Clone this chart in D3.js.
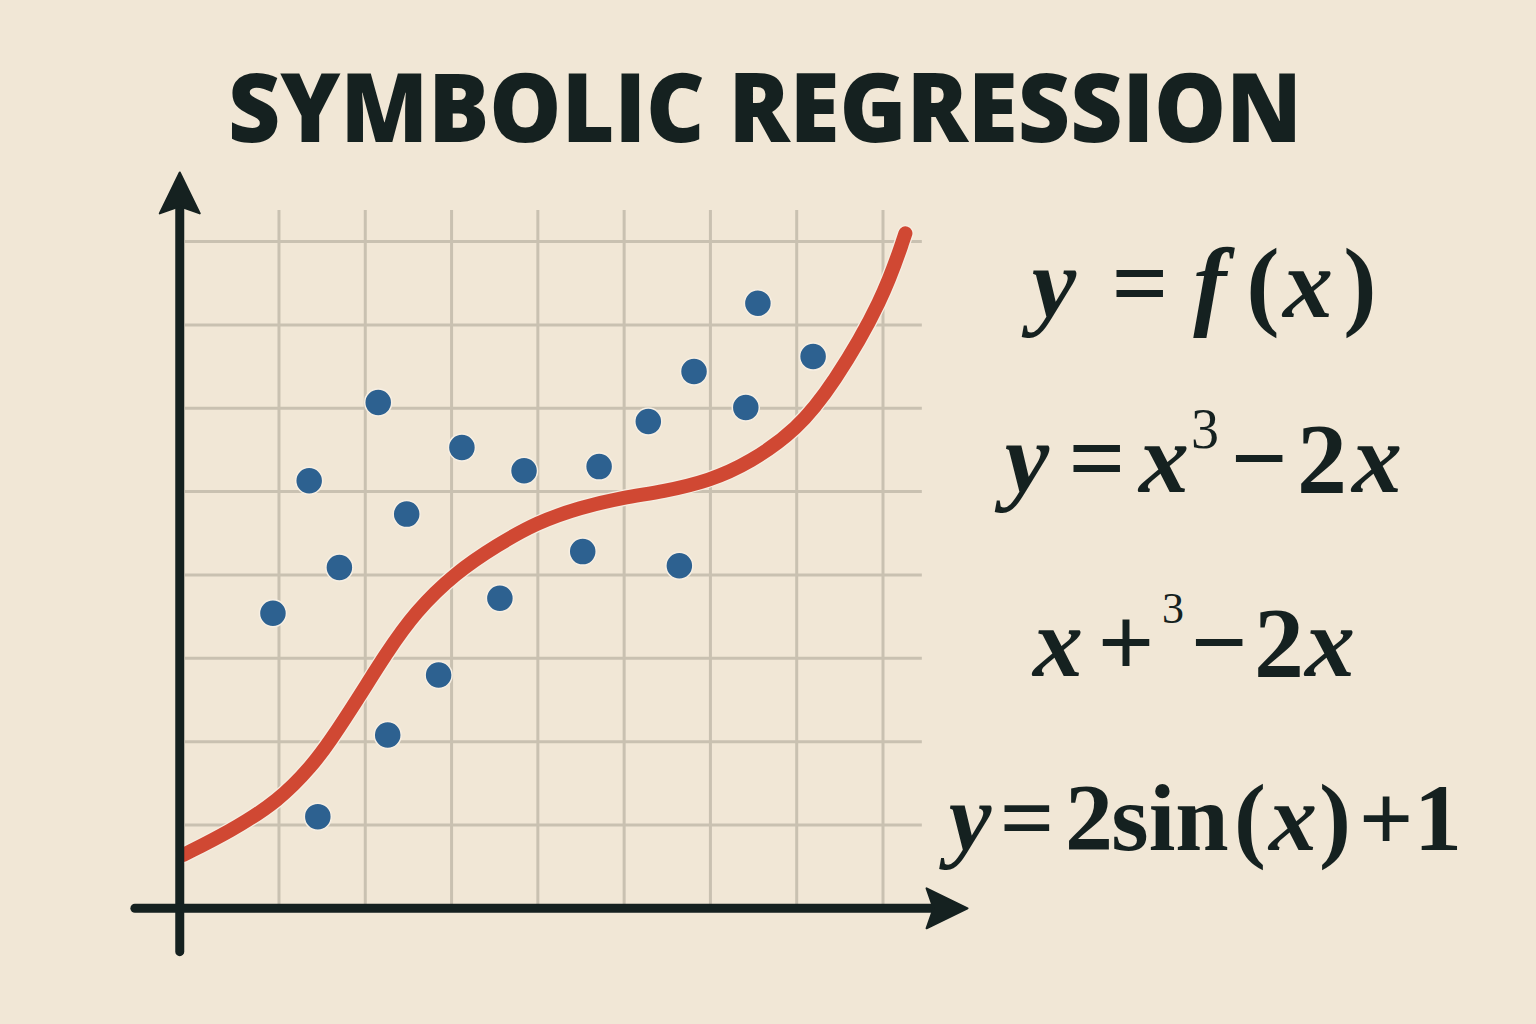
<!DOCTYPE html>
<html>
<head>
<meta charset="utf-8">
<script src="https://cdn.jsdelivr.net/npm/d3@7"></script>
<style>
  html, body { margin: 0; padding: 0; background: #f1e7d6; }
  svg { display: block; }
</style>
</head>
<body>
<svg id="chart" width="1536" height="1024"></svg>
<script>
// ---------- data ----------
const titleText = "SYMBOLIC REGRESSION";

// scattered observations (grid units)
const pointX = [0.93, 1.35, 1.45, 1.70, 2.15, 2.26, 2.48, 2.85, 3.12, 3.56, 3.84, 4.52, 4.71, 5.28, 5.64, 5.81, 6.41, 6.55, 7.19];
const pointY = [3.54, 5.13, 1.10, 4.09, 6.07, 2.08, 4.73, 2.80, 5.53, 3.72, 5.25, 4.28, 5.30, 5.84, 4.11, 6.44, 6.01, 7.26, 6.62];

// fitted curve (grid units)
const curveX = [-0.11, 0.43, 1.00, 1.39, 1.59, 1.93, 2.23, 2.58, 3.05, 3.53, 3.99, 4.49, 4.99, 5.45, 5.99, 6.46, 7.00, 7.42, 8.00, 8.26];
const curveY = [0.64, 0.92, 1.29, 1.72, 2.00, 2.54, 3.04, 3.56, 4.03, 4.36, 4.63, 4.81, 4.93, 5.00, 5.13, 5.35, 5.74, 6.28, 7.30, 8.10];

// grid lines
const gridXTicks = [1, 2, 3, 4, 5, 6, 7, 8];
const gridYTicks = [1, 2, 3, 4, 5, 6, 7, 8];

// equations: tokens [text, style]  i = italic variable, u = upright, s = superscript
const eq1 = [["y", "i"], ["=", "u"], ["f", "i"], ["(", "u"], ["x", "i"], [")", "u"]];
const eq2 = [["y", "i"], ["=", "u"], ["x", "i"], ["3", "s"], ["−", "u"], ["2", "u"], ["x", "i"]];
const eq3 = [["x", "i"], ["+", "u"], ["3", "s"], ["−", "u"], ["2", "u"], ["x", "i"]];
const eq4 = [["y", "i"], ["=", "u"], ["2", "u"], ["sin", "u"], ["(", "u"], ["x", "i"], [")", "u"], ["+", "u"], ["1", "u"]];

// ---------- layout (pixels) ----------
const eqLayout = [
  { parts: eq1, base: 317, sup: 0,   supSize: 0,  size: 100, cx: [1054, 1140, 1210, 1263, 1308, 1360] },
  { parts: eq2, base: 492, sup: 448, supSize: 56, size: 100, cx: [1027, 1097, 1164, 1205, 1259, 1322, 1377] },
  { parts: eq3, base: 676, sup: 623, supSize: 44, size: 100, cx: [1058, 1126, 1173, 1219, 1279, 1330] },
  { parts: eq4, base: 850, sup: 0,   supSize: 0,  size: 96,  cx: [970, 1027, 1089, 1170, 1250, 1293, 1335, 1386, 1438] }
];

// ---------- drawing ----------
const svg = d3.select("#chart");
const W = 1536, H = 1024;

svg.append("rect").attr("width", W).attr("height", H).attr("fill", "#f1e7d6");

const x = d3.scaleLinear().domain([0, 8]).range([192.7, 883]);
const y = d3.scaleLinear().domain([0, 8]).range([908.3, 241.6]);

const axisX0 = -0.15;
const gridColor = "#c9c1b1";
const ink = "#152120";

// title
svg.append("text")
  .attr("x", 765).attr("y", 142)
  .attr("text-anchor", "middle")
  .attr("font-family", "'Open Sans', sans-serif")
  .attr("font-weight", 800)
  .attr("font-size", 96)
  .attr("fill", ink)
  .attr("textLength", 1074)
  .attr("lengthAdjust", "spacingAndGlyphs")
  .text(titleText);

// grid
const g = svg.append("g");
g.selectAll(".gv").data(gridXTicks).join("line")
  .attr("x1", d => x(d)).attr("x2", d => x(d))
  .attr("y1", y(8.38)).attr("y2", y(0))
  .attr("stroke", gridColor).attr("stroke-width", 3);
g.selectAll(".gh").data(gridYTicks).join("line")
  .attr("x1", x(-0.09)).attr("x2", x(8.45))
  .attr("y1", d => y(d)).attr("y2", d => y(d))
  .attr("stroke", gridColor).attr("stroke-width", 3);

// curve
const line = d3.line().x(d => x(d[0])).y(d => y(d[1])).curve(d3.curveBasis);
const curveData = curveX.map((v, i) => [v, curveY[i]]);
svg.append("path")
  .datum(curveData)
  .attr("d", line)
  .attr("fill", "none")
  .attr("stroke", "#f6eee2")
  .attr("stroke-width", 16.5)
  .attr("stroke-linecap", "round");
svg.append("path")
  .datum(curveData)
  .attr("d", line)
  .attr("fill", "none")
  .attr("stroke", "#d04833")
  .attr("stroke-width", 14)
  .attr("stroke-linecap", "round");

// axes
const yTop = 8.83, yBottom = -0.52, xLeft = -0.67, xRight = 8.98;
svg.append("line")
  .attr("x1", x(axisX0)).attr("x2", x(axisX0))
  .attr("y1", y(yBottom)).attr("y2", y(yTop) + 30)
  .attr("stroke", ink).attr("stroke-width", 9).attr("stroke-linecap", "round");
svg.append("line")
  .attr("x1", x(xLeft)).attr("x2", x(xRight) - 30)
  .attr("y1", y(0)).attr("y2", y(0))
  .attr("stroke", ink).attr("stroke-width", 9).attr("stroke-linecap", "round");

const ax = x(axisX0), ayTop = y(yTop);
svg.append("path")
  .attr("d", `M${ax},${ayTop} L${ax + 20},${ayTop + 41} L${ax},${ayTop + 34} L${ax - 20},${ayTop + 41} Z`)
  .attr("fill", ink).attr("stroke", ink).attr("stroke-width", 2).attr("stroke-linejoin", "round");
const bx = x(xRight), by = y(0);
svg.append("path")
  .attr("d", `M${bx},${by} L${bx - 41},${by - 20} L${bx - 34},${by} L${bx - 41},${by + 20} Z`)
  .attr("fill", ink).attr("stroke", ink).attr("stroke-width", 2).attr("stroke-linejoin", "round");

// points
svg.selectAll(".pt").data(pointX.map((v, i) => [v, pointY[i]])).join("circle")
  .attr("cx", d => x(d[0])).attr("cy", d => y(d[1]))
  .attr("r", 13.5)
  .attr("fill", "#2d6190")
  .attr("stroke", "#f7efe3").attr("stroke-width", 1.5);

// equations
eqLayout.forEach(eq => {
  const t = svg.append("text")
    .attr("y", eq.base)
    .attr("text-anchor", "middle")
    .attr("font-family", "'Liberation Serif', 'DejaVu Serif', serif")
    .attr("font-size", eq.size)
    .attr("font-weight", 700)
    .attr("fill", ink);
  eq.parts.forEach(([txt, st], i) => {
    const ts = t.append("tspan").attr("x", eq.cx[i]).attr("y", st === "s" ? eq.sup : eq.base).text(txt);
    if (st === "i") ts.attr("font-style", "italic");
    if (st === "s") ts.attr("font-size", eq.supSize).attr("font-weight", 400);
  });
});
</script>
</body>
</html>
